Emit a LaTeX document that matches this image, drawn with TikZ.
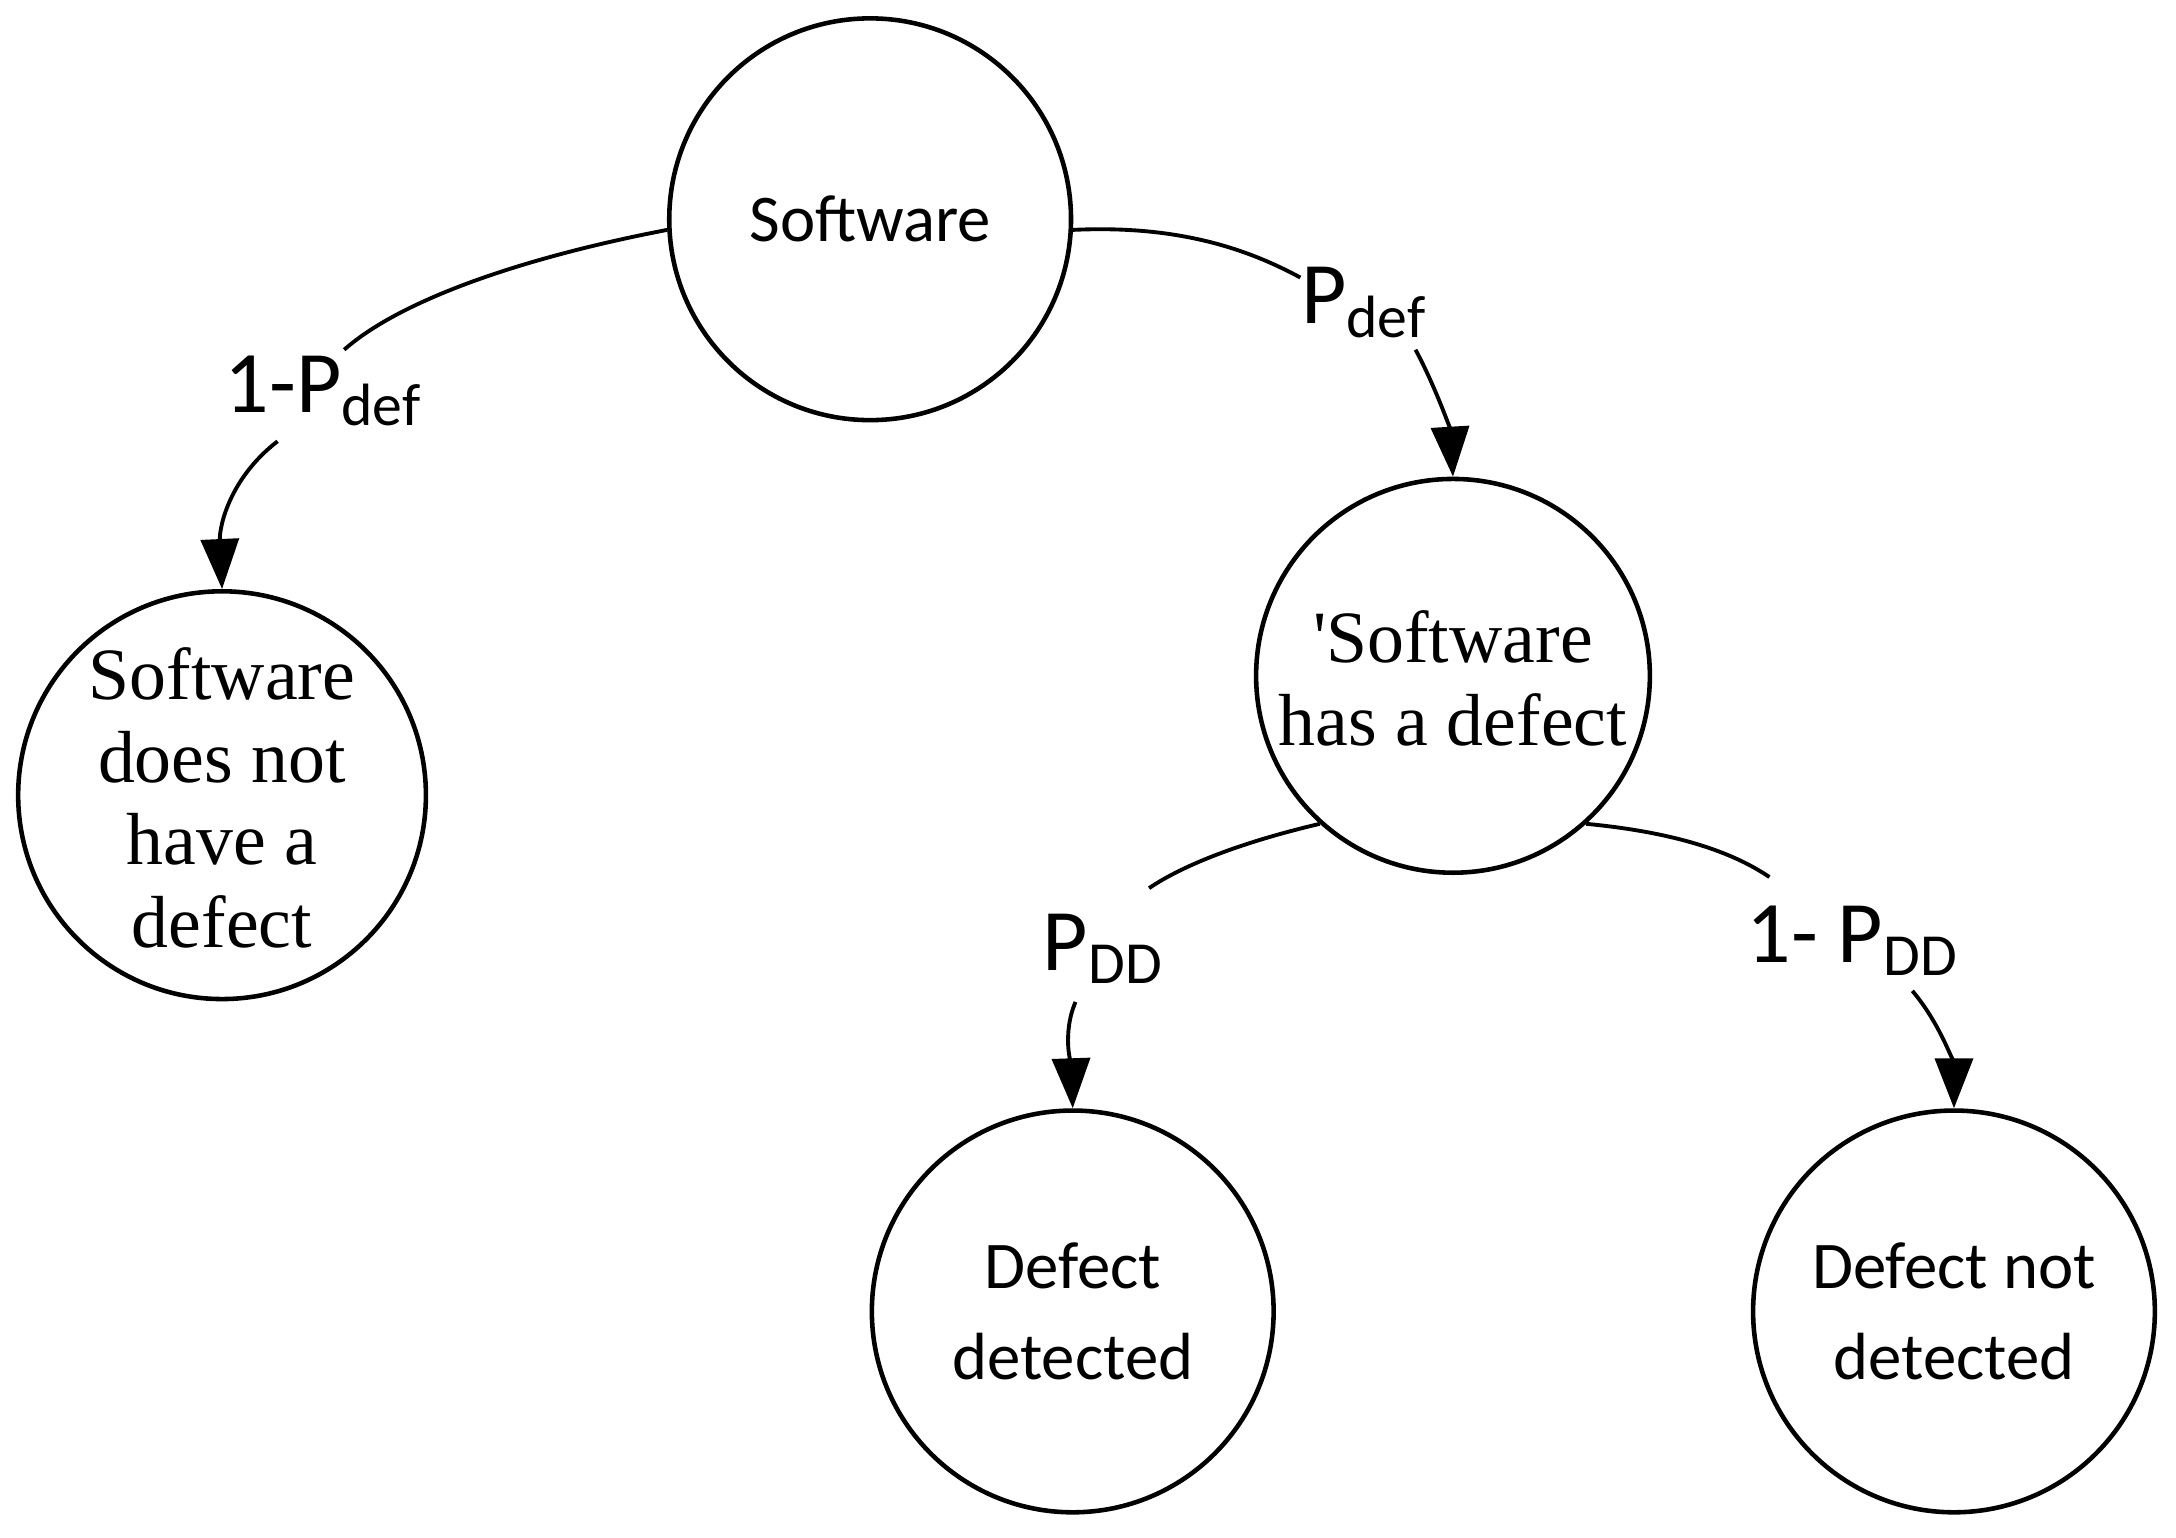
\documentclass[tikz,border=0pt]{standalone}
\usepackage{fontspec}
\setmainfont{Carlito}
\newfontfamily\serifx{Liberation Serif}
\usetikzlibrary{arrows.meta}
\begin{document}
\begin{tikzpicture}[x=0.013878cm,y=-0.013878cm,
  st/.style={circle,draw,line width=1.3pt,minimum size=#1,inner sep=0pt,align=center},
  sanslab/.style={font=\fontsize{19}{26}\selectfont},
  seriflab/.style={font=\serifx\fontsize{21}{23.5}\selectfont,align=center,inner sep=0pt},
  plab/.style={font=\fontsize{25}{30}\selectfont,inner sep=1pt},
  conn/.style={line width=1.1pt},
  arr/.style={line width=1.1pt,-{Triangle[length=0.5cm,width=0.38cm]}}]
\useasboundingbox (0,0) rectangle (1568,1108);
\node[st=4.02cm,sanslab] (sw) at (627,158) {Software};
\node[st=4.08cm] (no) at (160,573) {};
\node[seriflab] (notext) at (160,575) {Software\\does not\\have a\\defect};
\node[st=3.94cm] (has) at (1047,487) {};
\node[seriflab] (hastext) at (1047,489) {'Software\\has a defect};
\node[st=4.02cm,sanslab] (det) at (773,945) {Defect\\detected};
\node[st=4.02cm,sanslab] (ndet) at (1408,945) {Defect not\\detected};
\node[plab] (l1) at (233,282) {1-P\textsubscript{\fontsize{17}{20}\selectfont def}};
\node[plab] (l2) at (983,218) {P\textsubscript{\fontsize{17}{20}\selectfont def}};
\node[plab] (l3) at (795,684) {P\textsubscript{\fontsize{17}{20}\selectfont DD}};
\node[plab] (l4) at (1335,678) {1- P\textsubscript{\fontsize{17}{20}\selectfont DD}};
\coordinate (a1) at (248,252); \coordinate (b1) at (200,318);
\coordinate (a2) at (937,200); \coordinate (b2) at (1020,252);
\coordinate (a3) at (828,640); \coordinate (b3) at (775,722);
\coordinate (a4) at (1275,632); \coordinate (b4) at (1378,714);
\draw[conn] (sw.183) .. controls (380,185) and (290,215) .. (a1);
\draw[arr] (b1) .. controls (165,345) and (158,380) .. (no.north);
\draw[conn] (sw.-3) .. controls (850,162) and (900,180) .. (a2);
\draw[arr] (b2) .. controls (1035,280) and (1045,310) .. (has.north);
\draw[conn] (has.228) .. controls (890,608) and (850,625) .. (a3);
\draw[arr] (b3) .. controls (765,745) and (772,770) .. (det.north);
\draw[conn] (has.-48) .. controls (1210,600) and (1250,615) .. (a4);
\draw[arr] (b4) .. controls (1400,740) and (1408,770) .. (ndet.north);
\end{tikzpicture}
\end{document}
